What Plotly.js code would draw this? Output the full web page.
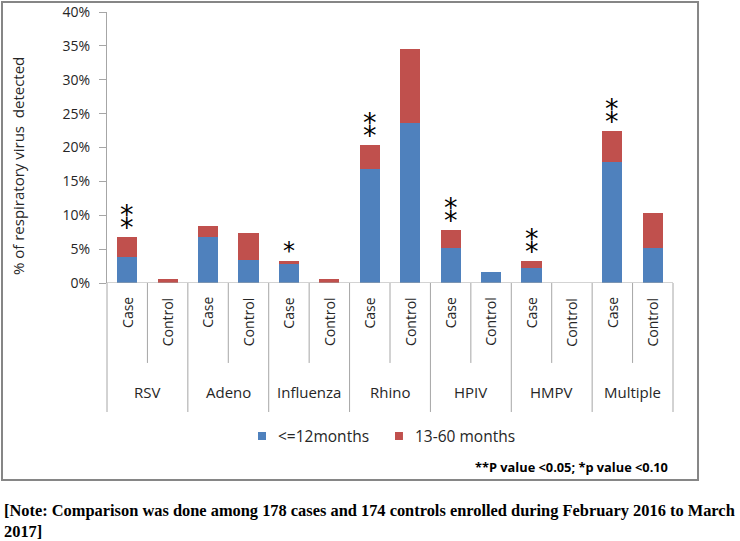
<!DOCTYPE html>
<html>
<head>
<meta charset="utf-8">
<script src="https://cdn.plot.ly/plotly-3.0.1.min.js"></script>
<style>html,body{margin:0;padding:0;background:#fff;}#chart{width:740px;height:541px;}</style>
</head>
<body>
<div id="chart"></div>
<script>
// ---- data ----
const viruses = ["RSV", "Adeno", "Influenza", "Rhino", "HPIV", "HMPV", "Multiple"];
const groups = ["Case", "Control"];
const infant = [3.9, 0, 6.75, 3.4, 2.8, 0, 16.8, 23.6, 5.1, 1.6, 2.2, 0, 17.9, 5.1];   // <=12months
const older  = [2.85, 0.6, 1.65, 4.0, 0.5, 0.6, 3.5, 10.9, 2.7, 0, 1.1, 0, 4.5, 5.2]; // 13-60 months
const signif = ["**", "", "", "", "*", "", "**", "", "**", "", "**", "", "**", ""];
const yTicks = [0, 5, 10, 15, 20, 25, 30, 35, 40];
const seriesNames = ["<=12months", "13-60 months"];

const n = infant.length;
const xs = infant.map((_, i) => i);
const subLabels = xs.map(i => groups[i % 2]);

const colors = ["#4F81BD", "#C0504D"];
const txt = "#262626";

const traces = [
  {type: "bar", x: xs, y: infant, name: seriesNames[0], marker: {color: colors[0]}, hoverinfo: "none", showlegend: false},
  {type: "bar", x: xs, y: older, name: seriesNames[1], marker: {color: colors[1]}, hoverinfo: "none", showlegend: false}
];

const toPaper = k => k / n; // slot boundary k -> paper x
const shapes = [];
// category axis line
shapes.push({type: "line", xref: "paper", yref: "y", x0: 0, x1: 1, y0: 0, y1: 0, line: {color: "#a6a6a6", width: 1}});
for (let k = 0; k <= n; k++) {
  const outer = (k % 2 === 0);
  shapes.push({type: "line", xref: "paper", yref: "paper", x0: toPaper(k), x1: toPaper(k),
    y0: 0, y1: outer ? -0.476 : -0.295, line: {color: "#a6a6a6", width: 1}});
}
// outer border box
shapes.push({type: "rect", xref: "paper", yref: "paper", x0: -0.1855, x1: 1.0442, y0: 1.0369, y1: -0.727,
  line: {color: "#868686", width: 2}, fillcolor: "rgba(0,0,0,0)"});

const annotations = [];
// manual legend (small squares close to the text, as in the original)
const legendX = [0.2668, 0.5088];
seriesNames.forEach((name, s) => {
  shapes.push({type: "rect", xref: "paper", yref: "paper", x0: legendX[s], x1: legendX[s] + 0.0141,
    y0: -0.5498, y1: -0.5793, line: {width: 0}, fillcolor: colors[s]});
  annotations.push({x: legendX[s] + 0.0318, xref: "paper", y: -0.5646, yref: "paper", text: name.replace("<", "&lt;"),
    showarrow: false, xanchor: "left", yanchor: "middle", font: {family: "Open Sans", size: 15.5, color: txt}});
});
// rotated Case / Control labels
xs.forEach(i => {
  annotations.push({x: i, xref: "x", y: -0.045, yref: "paper", text: subLabels[i], textangle: -90,
    showarrow: false, xanchor: "center", yanchor: "top", font: {family: "Open Sans", size: 14, color: txt}});
});
// group labels
viruses.forEach((v, g) => {
  annotations.push({x: 2 * g + 0.5, xref: "x", y: -0.402, yref: "paper", text: v, showarrow: false,
    xanchor: "center", yanchor: "middle", font: {family: "Open Sans", size: 15, color: txt}});
});
// significance stars: "**" drawn as two vertically aligned asterisks
xs.forEach(i => {
  if (!signif[i]) return;
  const two = signif[i] === "**";
  annotations.push({x: i, xref: "x", y: infant[i] + older[i], yref: "y", text: two ? "\u2051" : "*", showarrow: false,
    xanchor: "center", yanchor: "bottom", yshift: two ? 0 : -6,
    font: {family: "DejaVu Sans", size: two ? 27 : 24, color: "#000"}});
});
// y-axis title
annotations.push({x: -0.157, xref: "paper", y: 0.432, yref: "paper", text: "% of respiratory virus  detected",
  textangle: -90, showarrow: false, xanchor: "center", yanchor: "middle", font: {family: "Open Sans", size: 15, color: txt}});
// p-value note
annotations.push({x: 0.9947, xref: "paper", y: -0.679, yref: "paper", text: "<b>**P value &lt;0.05; *p value &lt;0.10</b>",
  showarrow: false, xanchor: "right", yanchor: "middle", font: {family: "Open Sans", size: 12.8, color: "#000"}});
// bottom note
annotations.push({x: -0.1855, xref: "paper", y: -0.880, yref: "paper",
  text: "<b>[Note: Comparison was done among 178 cases and 174 controls enrolled during February 2016 to March<br>2017]</b>",
  showarrow: false, xanchor: "left", yanchor: "middle", align: "left", font: {family: "Liberation Serif", size: 16.4, color: "#000"}});

const layout = {
  width: 740, height: 541,
  margin: {l: 107, r: 67, t: 12, b: 258},
  paper_bgcolor: "#fff", plot_bgcolor: "#fff",
  barmode: "stack", bargap: 0.5,
  showlegend: false,
  xaxis: {range: [-0.5, n - 0.5], showticklabels: false, showgrid: false, zeroline: false, showline: false, ticks: "", fixedrange: true},
  yaxis: {range: [0, 40], tickvals: yTicks, ticktext: yTicks.map(v => v + "%"), showgrid: false, zeroline: false,
    showline: true, linecolor: "#a6a6a6", linewidth: 1, ticks: "outside", ticklen: 7, tickcolor: "#a6a6a6",
    ticklabelstandoff: 6, tickfont: {family: "Open Sans", size: 14, color: txt}, fixedrange: true},
  shapes: shapes,
  annotations: annotations
};

Plotly.newPlot("chart", traces, layout, {displayModeBar: false, staticPlot: true});
</script>
</body>
</html>
